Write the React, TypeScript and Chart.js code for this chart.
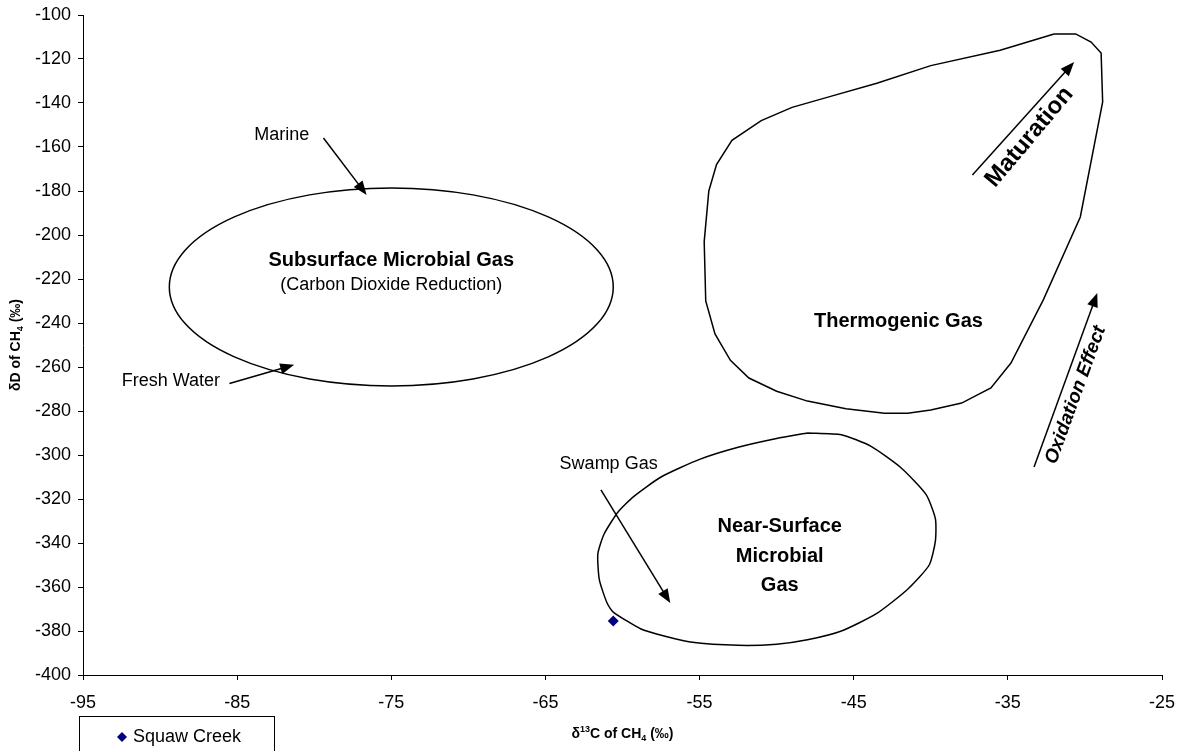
import React, { useEffect, useRef } from "react";
import { Chart, registerables } from "chart.js";
Chart.register(...registerables);

const FONT = '"Liberation Sans", Arial, sans-serif';

// Axis ticks
const xTickValues = [-95, -85, -75, -65, -55, -45, -35, -25];
const yTickValues = [-100, -120, -140, -160, -180, -200, -220, -240, -260, -280, -300, -320, -340, -360, -380, -400];

// Squaw Creek sample
const squawX = [-60.6];
const squawY = [-375.5];

// Thermogenic gas field outline
const thermoX = [-32.0, -30.6, -29.6, -28.95, -28.85, -30.3, -32.7, -34.8, -36.1, -38.0, -40.0, -41.5, -43.0, -45.5, -48.0, -50.0, -51.8, -53.0, -54.0, -54.6, -54.7, -54.4, -53.9, -52.9, -51.0, -49.0, -46.5, -43.5, -40.0, -35.5, -32.0];
const thermoY = [-108.6, -108.6, -112.3, -117.3, -139.5, -191.8, -229.5, -258.2, -269.5, -276.4, -279.5, -281, -281, -279, -275.5, -271, -265, -257, -245, -230, -203, -180, -168, -157, -148, -142, -137, -131, -123, -116, -108.6];

// Near-surface microbial gas field outline
const nearX = [-48.0, -45.8, -43.9, -41.9, -40.3, -39.7, -39.7, -40.1, -41.5, -43.5, -45.8, -48.0, -50.0, -52.5, -55.6, -57.3, -58.8, -60.6, -61.0, -61.5, -61.6, -61.2, -60.3, -59.3, -57.5, -55.0, -52.5, -50.0, -48.0];
const nearY = [-290, -290.8, -296, -306, -318, -329, -339, -350, -361, -372, -380, -384, -386, -386.5, -385, -382.3, -379.1, -371.4, -367.3, -356.8, -345, -336, -326, -319, -310, -302, -296.5, -292.5, -290];

// Subsurface microbial gas ellipse: centre and semi-axes (data units)
const ellipseCenter = [-75, -223.6];
const ellipseRadii = [14.4, 45];

// Arrows: [x1, y1, x2(tip), y2(tip)] in data units
const arrows = [
  [-79.4, -155.9, -76.6, -181.8],
  [-85.5, -267.5, -81.3, -259.0],
  [-61.4, -315.9, -56.9, -367.3],
  [-37.3, -172.7, -30.7, -121.4],
  [-33.3, -305.5, -29.2, -226.4],
];

// Text annotations: [text, x, y, size, weight/style, rotation deg]
const labels: [string, number, number, number, string, number][] = [
  ["Marine", -82.1, -154.5, 18, "normal", 0],
  ["Fresh Water", -89.3, -266.5, 18, "normal", 0],
  ["Swamp Gas", -60.9, -304.0, 18, "normal", 0],
  ["Subsurface Microbial Gas", -75.0, -211.4, 20, "bold", 0],
  ["(Carbon Dioxide Reduction)", -75.0, -222.7, 18, "normal", 0],
  ["Thermogenic Gas", -42.1, -239.5, 20, "bold", 0],
  ["Near-Surface", -49.8, -332.5, 20, "bold", 0],
  ["Microbial", -49.8, -346.0, 20, "bold", 0],
  ["Gas", -49.8, -359.5, 20, "bold", 0],
  ["Maturation", -33.6, -155.5, 24, "bold", -50],
  ["Oxidation Effect", -30.6, -272.7, 19, "italic bold", -70],
];

function drawArrow(ctx: CanvasRenderingContext2D, x1: number, y1: number, x2: number, y2: number) {
  const a = Math.atan2(y2 - y1, x2 - x1);
  const L = 14, W = 5.5;
  const c = Math.cos(a), s = Math.sin(a);
  ctx.beginPath();
  ctx.moveTo(x1, y1);
  ctx.lineTo(x2 - L * 0.7 * c, y2 - L * 0.7 * s);
  ctx.stroke();
  ctx.beginPath();
  ctx.moveTo(x2, y2);
  ctx.lineTo(x2 - L * c - W * s, y2 - L * s + W * c);
  ctx.lineTo(x2 - L * c + W * s, y2 - L * s - W * c);
  ctx.closePath();
  ctx.fill();
}

type Piece = [string, "n" | "sup" | "sub"];
function drawRich(ctx: CanvasRenderingContext2D, pieces: Piece[], cx: number, cy: number, size: number) {
  const small = Math.round(size * 0.62);
  const widths = pieces.map(([t, k]) => {
    ctx.font = `bold ${k === "n" ? size : small}px ${FONT}`;
    return ctx.measureText(t).width;
  });
  const total = widths.reduce((a, b) => a + b, 0);
  let x = cx - total / 2;
  ctx.textAlign = "left";
  ctx.textBaseline = "alphabetic";
  const base = cy + size * 0.36;
  pieces.forEach(([t, k], i) => {
    ctx.font = `bold ${k === "n" ? size : small}px ${FONT}`;
    const dy = k === "sup" ? -size * 0.42 : k === "sub" ? size * 0.2 : 0;
    ctx.fillText(t, x, base + dy);
    x += widths[i];
  });
}

const annotPlugin = {
  id: "annot",
  afterDraw(chart: any) {
    const ctx: CanvasRenderingContext2D = chart.ctx;
    const xs = chart.scales.x, ys = chart.scales.y;
    const px = (v: number) => xs.getPixelForValue(v);
    const py = (v: number) => ys.getPixelForValue(v);
    ctx.save();
    ctx.strokeStyle = "#000";
    ctx.fillStyle = "#000";
    ctx.lineWidth = 1.5;

    // ellipse
    const ecx = px(ellipseCenter[0]), ecy = py(ellipseCenter[1]);
    const rx = Math.abs(px(ellipseCenter[0] + ellipseRadii[0]) - ecx);
    const ry = Math.abs(py(ellipseCenter[1] + ellipseRadii[1]) - ecy);
    ctx.beginPath();
    ctx.ellipse(ecx, ecy, rx, ry, 0, 0, Math.PI * 2);
    ctx.stroke();

    // arrows
    arrows.forEach(([x1, y1, x2, y2]) => drawArrow(ctx, px(x1), py(y1), px(x2), py(y2)));

    // labels
    labels.forEach(([t, x, y, size, w, rot]) => {
      ctx.save();
      ctx.translate(px(x), py(y));
      ctx.rotate((rot * Math.PI) / 180);
      ctx.font = `${w} ${size}px ${FONT}`;
      ctx.textAlign = "center";
      ctx.textBaseline = "middle";
      ctx.fillText(t, 0, 0);
      ctx.restore();
    });

    // axis titles
    const ca = chart.chartArea;
    drawRich(ctx, [["δ", "n"], ["13", "sup"], ["C of CH", "n"], ["4", "sub"], [" (‰)", "n"]], (ca.left + ca.right) / 2, 733, 14);
    ctx.save();
    ctx.translate(15, (ca.top + ca.bottom) / 2);
    ctx.rotate(-Math.PI / 2);
    drawRich(ctx, [["δD of CH", "n"], ["4", "sub"], [" (‰)", "n"]], 0, 0, 14);
    ctx.restore();

    // legend
    ctx.lineWidth = 1;
    ctx.strokeStyle = "#000";
    ctx.strokeRect(79.5, 716.5, 195, 60);
    ctx.fillStyle = "#000080";
    ctx.beginPath();
    const lx = 122, ly = 737, r = 5;
    ctx.moveTo(lx, ly - r);
    ctx.lineTo(lx + r, ly);
    ctx.lineTo(lx, ly + r);
    ctx.lineTo(lx - r, ly);
    ctx.closePath();
    ctx.fill();
    ctx.fillStyle = "#000";
    ctx.font = `18px ${FONT}`;
    ctx.textAlign = "left";
    ctx.textBaseline = "middle";
    ctx.fillText("Squaw Creek", 133, ly);
    ctx.restore();
  },
};

export default function App() {
  const ref = useRef<HTMLCanvasElement | null>(null);
  useEffect(() => {
    document.body.style.margin = "0";
    const toPts = (xs: number[], ys: number[]) => xs.map((x, i) => ({ x, y: ys[i] }));
    const chart = new Chart(ref.current as HTMLCanvasElement, {
      type: "scatter",
      data: {
        datasets: [
          {
            label: "Thermogenic",
            data: toPts(thermoX, thermoY),
            showLine: true,
            borderColor: "#000",
            borderWidth: 1.5,
            pointRadius: 0,
            fill: false,
            tension: 0,
          },
          {
            label: "Near-Surface",
            data: toPts(nearX, nearY),
            showLine: true,
            borderColor: "#000",
            borderWidth: 1.5,
            pointRadius: 0,
            fill: false,
            tension: 0.2,
          },
          {
            label: "Squaw Creek",
            data: toPts(squawX, squawY),
            pointStyle: "rectRot",
            pointRadius: 5.5,
            backgroundColor: "#000080",
            borderColor: "#000080",
            borderWidth: 0,
          },
        ],
      },
      options: {
        animation: false,
        responsive: false,
        maintainAspectRatio: false,
        layout: { padding: { left: 0, top: 15, right: 18, bottom: 0 } },
        plugins: { legend: { display: false }, tooltip: { enabled: false }, title: { display: false } },
        scales: {
          x: {
            type: "linear",
            min: -95,
            max: -25,
            afterBuildTicks: (s: any) => {
              s.ticks = xTickValues.map((v) => ({ value: v }));
            },
            afterFit: (s: any) => {
              s.height = 76;
              s.paddingLeft = 0;
              s.paddingRight = 0;
            },
            ticks: { color: "#000", font: { family: FONT, size: 18 }, padding: 12, maxRotation: 0, autoSkip: false },
            grid: { display: true, drawOnChartArea: false, drawTicks: true, tickLength: 5, color: "#000", lineWidth: 1 },
            border: { display: true, color: "#000", width: 1 },
          },
          y: {
            type: "linear",
            min: -400,
            max: -100,
            afterBuildTicks: (s: any) => {
              s.ticks = yTickValues.map((v) => ({ value: v }));
            },
            afterFit: (s: any) => {
              s.width = 83;
              s.paddingTop = 0;
              s.paddingBottom = 0;
            },
            ticks: { color: "#000", font: { family: FONT, size: 18 }, padding: 7, autoSkip: false },
            grid: { display: true, drawOnChartArea: false, drawTicks: true, tickLength: 5, color: "#000", lineWidth: 1 },
            border: { display: true, color: "#000", width: 1 },
          },
        },
      },
      plugins: [annotPlugin],
    });
    return () => chart.destroy();
  }, []);
  return (
    <div style={{ position: "absolute", left: 0, top: 0, width: 1180, height: 751, background: "#fff" }}>
      <canvas ref={ref} width={1180} height={751} style={{ width: 1180, height: 751 }} />
    </div>
  );
}
